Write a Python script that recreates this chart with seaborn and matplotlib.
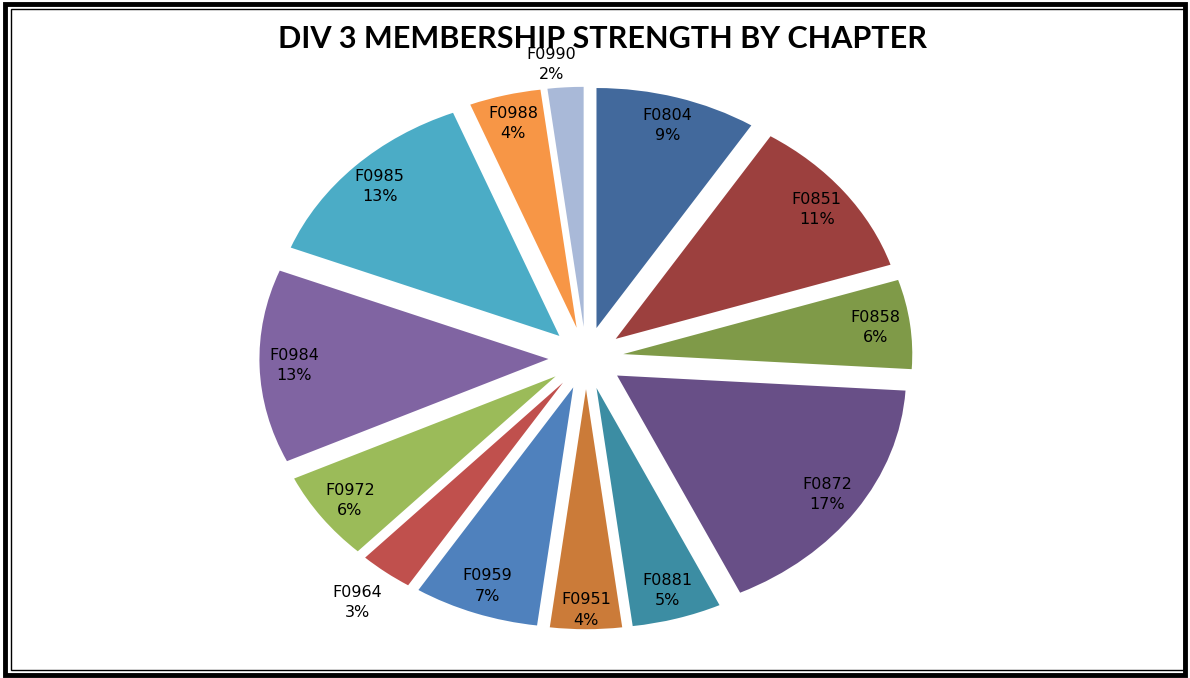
import numpy as np
import matplotlib
matplotlib.use("Agg")
import matplotlib.pyplot as plt
import seaborn as sns
from matplotlib.patches import Rectangle

# данные (проценты по отделениям)
chapters = ["F0804", "F0851", "F0858", "F0872", "F0881", "F0951", "F0959",
            "F0964", "F0972", "F0984", "F0985", "F0988", "F0990"]
shares = [9, 11, 6, 17, 5, 4, 7, 3, 6, 13, 13, 4, 2]
colors = ["#42699C", "#9C403E", "#7F9A48", "#684F87", "#3C8DA3", "#CB7B39",
          "#4F81BD", "#C0504D", "#9BBB59", "#8064A2", "#4BACC6", "#F79646",
          "#A9B9D8"]

sns.set_theme(style="white")
plt.rcParams['font.family'] = ['DejaVu Sans']

fig = plt.figure(figsize=(11.9, 6.78), dpi=100)
ax = fig.add_axes([0, 0, 1, 1])

explode = [0.13] * len(shares)
wedges, _ = ax.pie(shares, colors=colors, explode=explode, startangle=90,
                   counterclock=False, radius=1.0,
                   wedgeprops=dict(linewidth=0))

# эллипс как в Excel: растягиваем оси
ax.set_aspect('auto')
cx_px, cy_px, rx_px, ry_px = 586, 358, 289, 240
ax.set_xlim(-cx_px / rx_px, (1190 - cx_px) / rx_px)
ax.set_ylim(-(678 - cy_px) / ry_px, cy_px / ry_px)
ax.axis('off')

# подписи секторов (две маленькие - снаружи)
for w, name, val in zip(wedges, chapters, shares):
    tm = np.deg2rad((w.theta1 + w.theta2) / 2)
    if name == "F0990":
        d = 1.23
        tm += 0.035
    elif name == "F0964":
        d = 1.29
    elif name == "F0951":
        d = 1.05
    else:
        d = 1.01
    x, y = d * np.cos(tm), d * np.sin(tm)
    ax.text(x, y, f"{name}\n{val}%", ha='center', va='center',
            fontsize=11.5, color='black', linespacing=1.45)

fig.text(0.506, 0.943, "DIV 3 MEMBERSHIP STRENGTH BY CHAPTER",
         ha='center', va='center', fontsize=22, fontweight='bold',
         color='black', family=['Lato', 'DejaVu Sans'])

# двойная рамка
fig.patches.append(Rectangle((0.004, 0.004), 0.992, 0.99, transform=fig.transFigure,
                             fill=False, edgecolor='black', linewidth=3.5))
fig.patches.append(Rectangle((0.009, 0.012), 0.986, 0.975, transform=fig.transFigure,
                             fill=False, edgecolor='black', linewidth=1.0))

fig.savefig("out.png", dpi=100)
